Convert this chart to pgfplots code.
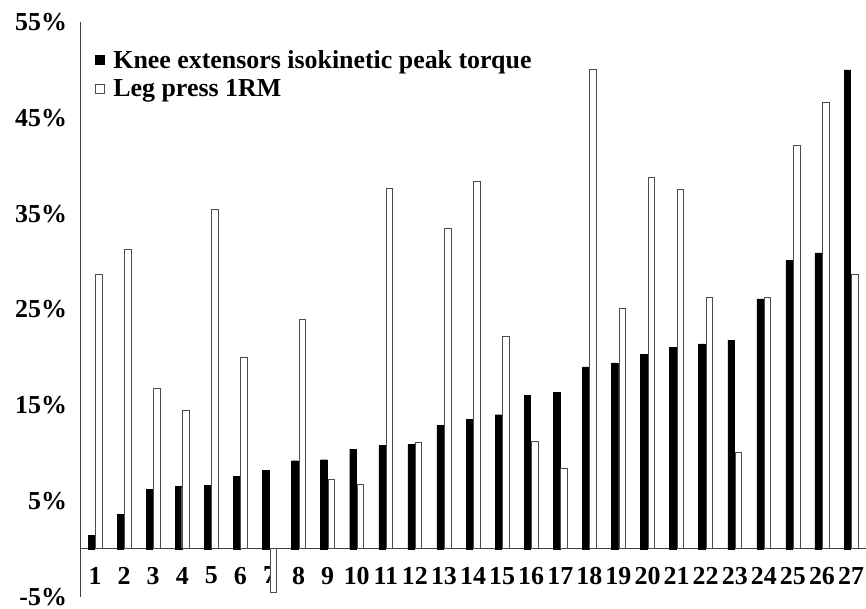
\documentclass[border=0pt]{standalone}
\usepackage{fontspec}
\setmainfont{Liberation Serif}
\usepackage{pgfplots}
\pgfplotsset{compat=1.18}
\begin{document}
\begin{tikzpicture}
\begin{axis}[
    scale only axis, width=785.5bp, height=575bp,
    xmin=0.5, xmax=27.5, ymin=-5, ymax=55,
    axis y line=left, axis x line=middle,
    axis line style={-, black!75, line width=0.8bp},
    ybar=1bp, bar width=6.5bp,
    xtick={1,...,27}, ytick={-5,5,...,55},
    major tick length=0pt,
    font=\fontsize{26}{30}\selectfont\bfseries,
    /pgf/number format/assume math mode=true,
    yticklabel={\pgfmathprintnumber{\tick}\%},
    yticklabel style={xshift=-10bp},
    xticklabel style={yshift=-18bp, inner sep=0bp},
    legend style={at={(0.014,0.958)}, anchor=north west, draw=none, fill=none,
        row sep=6bp, font=\fontsize{26}{30}\selectfont\bfseries},
    legend cell align=left,
    legend image code/.code={\draw[#1] (0bp,-4.5bp) rectangle (9.5bp,5bp);
        \path (16bp,0bp);},
]
\addplot[fill=black, draw=black] coordinates {
(1,1.4) (2,3.6) (3,6.2) (4,6.5) (5,6.6) (6,7.6) (7,8.2) (8,9.2) (9,9.3)
(10,10.4) (11,10.8) (12,10.9) (13,12.9) (14,13.5) (15,14.0) (16,16.0) (17,16.3)
(18,19.0) (19,19.4) (20,20.3) (21,21.0) (22,21.4) (23,21.8) (24,26.1) (25,30.1)
(26,30.9) (27,50.0)};
\addplot[fill=white, draw=black!70, line width=0.8bp] coordinates {
(1,28.6) (2,31.3) (3,16.7) (4,14.4) (5,35.4) (6,20.0) (7,-4.5) (8,23.9) (9,7.2)
(10,6.7) (11,37.6) (12,11.1) (13,33.4) (14,38.4) (15,22.2) (16,11.2) (17,8.4)
(18,50.0) (19,25.1) (20,38.8) (21,37.5) (22,26.3) (23,10.1) (24,26.3) (25,42.1)
(26,46.6) (27,28.6)};
\legend{Knee extensors isokinetic peak torque, Leg press 1RM}
\end{axis}
\path (current axis.south west) ++(-80.5bp,-10bp) coordinate (bbl);
\path (current axis.north east) ++(0bp,22bp) coordinate (bbr);
\path (bbl) rectangle (bbr);
\end{tikzpicture}
\end{document}
